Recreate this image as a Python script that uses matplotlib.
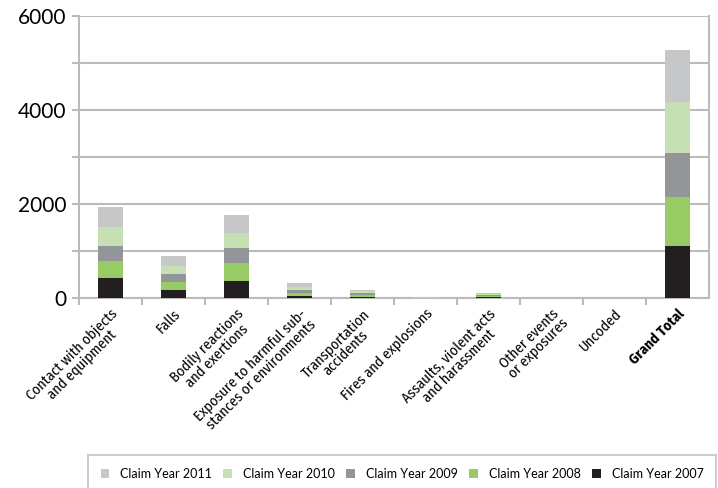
import matplotlib.pyplot as plt
from matplotlib import font_manager
import numpy as np

categories = ["Contact with objects\nand equipment", "Falls",
              "Bodily reactions\nand exertions",
              "Exposure to harmful sub-\nstances or environments",
              "Transportation\naccidents", "Fires and explosions",
              "Assaults, violent acts\nand harassment",
              "Other events\nor exposures", "Uncoded", "Grand Total"]

y2007 = [426, 177, 369, 43, 30, 3, 20, 1, 0, 1113]
y2008 = [361, 163, 376, 70, 40, 2, 25, 1, 0, 1043]
y2009 = [326, 171, 319, 50, 30, 2, 20, 1, 0, 936]
y2010 = [398, 177, 326, 64, 40, 2, 25, 1, 0, 1085]
y2011 = [418, 206, 369, 85, 30, 2, 20, 1, 0, 1107]

series = [("Claim Year 2007", y2007, "#231f20"),
          ("Claim Year 2008", y2008, "#97cc64"),
          ("Claim Year 2009", y2009, "#939598"),
          ("Claim Year 2010", y2010, "#c6e0b4"),
          ("Claim Year 2011", y2011, "#c6c7c9")]

# condensed face for the category labels, if one is around
names = set(f.name for f in font_manager.fontManager.ttflist)
tickfont = 'Lato'
for n in ['Fira Sans Condensed', 'Archivo Narrow', 'Liberation Sans Narrow']:
    if n in names:
        tickfont = n
        break
plt.rcParams['font.family'] = ['Lato', 'DejaVu Sans']

fig = plt.figure(figsize=(7.18, 4.88), dpi=100)
ax = fig.add_axes([79/718, 1-298/488, 630/718, 282/488])

x = np.arange(len(categories))
bottom = np.zeros(len(categories))
handles = []
for name, vals, col in series:
    b = ax.bar(x, vals, 0.41, bottom=bottom, color=col, label=name, zorder=3)
    bottom += np.array(vals)
    handles.append(b)

ax.set_xlim(-0.5, len(categories) - 0.5)
ax.set_ylim(0, 6000)
ax.set_yticks([0, 2000, 4000, 6000])
ax.set_yticks([1000, 3000, 5000], minor=True)
ax.tick_params(axis='y', which='both', length=5, color='#bbbbbb', width=1.5,
               labelsize=15, pad=4)
ax.yaxis.grid(True, which='both', color='#bbbbbb', linewidth=1.5, zorder=0)

ax.set_xticks(x - 0.5, minor=True)
ax.set_xticks(x)
ax.tick_params(axis='x', which='major', length=0, pad=6)
ax.tick_params(axis='x', which='minor', length=5, color='#bbbbbb', width=1.5)
labels = ax.set_xticklabels(categories, rotation=45, ha='right',
                            rotation_mode='anchor', fontsize=10.5,
                            multialignment='center', family=[tickfont, 'Lato'],
                            linespacing=1.0)
labels[-1].set_fontweight('bold')

ax.spines['top'].set_visible(False)
for s in ['left', 'right', 'bottom']:
    ax.spines[s].set_color('#bbbbbb')
    ax.spines[s].set_linewidth(1.5)

leg = fig.legend(handles[::-1], [s[0] for s in series][::-1], ncol=5,
                 loc='upper left', bbox_to_anchor=(88/718, 0.0, 0.875, 1-455/488),
                 mode='expand', borderaxespad=0, fontsize=9, frameon=True,
                 fancybox=False, handlelength=0.7, handleheight=0.7,
                 handletextpad=0.9, borderpad=1.0)
leg.get_frame().set_edgecolor('#c0c0c0')
leg.get_frame().set_linewidth(1.5)

fig.savefig("out.png", dpi=100)
